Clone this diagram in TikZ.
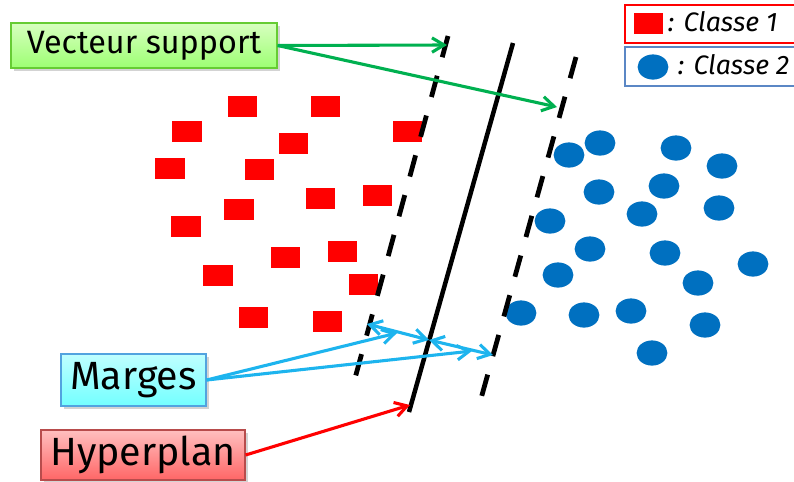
\documentclass[tikz,border=0pt]{standalone}
\usepackage{fontspec}
\setmainfont{Fira Sans}
\usetikzlibrary{arrows.meta,shadows,shapes.geometric}

\definecolor{ptred}{HTML}{FF0000}
\definecolor{ptblue}{HTML}{0070C0}
\definecolor{arrgreen}{HTML}{00B050}
\definecolor{arrcyan}{HTML}{1DB4EE}
\definecolor{legblue}{HTML}{5B87C5}

\begin{document}
\begin{tikzpicture}[x=0.025cm,y=-0.025cm,>={Straight Barb[length=3mm,width=3.6mm]},
  redpt/.style={fill=ptred,minimum width=0.725cm,minimum height=0.525cm,inner sep=0pt},
  bluept/.style={ellipse,fill=ptblue,minimum width=0.77cm,minimum height=0.63cm,inner sep=0pt},
  labelbox/.style={draw,line width=0.8pt,drop shadow={shadow xshift=2pt,shadow yshift=-2pt,opacity=0.35},inner sep=2pt},
  legbox/.style={draw,line width=1.6pt,minimum width=4.4cm,anchor=west},
  sep/.style={line width=3.2pt,line cap=butt},
  margin/.style={sep,line width=3.4pt,dash pattern=on 0.55cm off 0.48cm},
  arr/.style={line width=2.2pt}]
\useasboundingbox (0,0) rectangle (794,481);

% les deux classes
\foreach \x/\y [count=\i] in {242/106,325/106,187/131,407/131,293/143,170/168,259/169,320/198,
  377/195,239/209,186/226,285/257,342/251,218/275,363/284,253/317,327/321}
  \node[redpt] (r\i) at (\x,\y) {};
\foreach \x/\y [count=\i] in {569/155,600/143,676/148,722/166,599/192,664/186,719/208,642/214,
  550/221,590/249,665/253,753/264,558/275,698/283,521/313,584/315,631/311,705/325,652/353}
  \node[bluept] (b\i) at (\x,\y) {};

% hyperplan et marges
\coordinate (lt) at (448,36);  \coordinate (lb) at (351,393);
\coordinate (ht) at (513,43);  \coordinate (hb) at (409,412);
\coordinate (rt) at (576,57);  \coordinate (rb) at (477,413);
\draw[margin] (lt) -- (lb);
\draw[margin] (rt) -- (rb);
\draw[sep] (ht) -- (hb);

% legende
\node[legbox,draw=ptred,minimum height=0.95cm] (leg1) at (624,24) {};
\node[legbox,draw=legblue,minimum height=0.98cm] (leg2) at (624,66.5) {};
\node[redpt] (legr) at (648,23) {};
\node[anchor=west,font=\fontsize{19}{22}\itshape] (legt1) at (663,22) {: Classe 1};
\node[bluept] (legb) at (653,67) {};
\node[anchor=west,font=\fontsize{19}{22}\itshape] (legt2) at (673,65) {: Classe 2};

% etiquettes
\node[labelbox,draw=green!50!olive!80,top color=green!50!lime!25,bottom color=green!60!lime!55,
  minimum width=6.65cm,minimum height=1.125cm,font=\fontsize{23}{26}\selectfont] (vs) at (144,45.5) {Vecteur support};
\node[labelbox,draw=cyan!70!blue!70,top color=cyan!25,bottom color=cyan!55,
  minimum width=3.625cm,minimum height=1.3cm,font=\fontsize{28}{32}\selectfont] (mg) at (133.5,380) {Marges};
\node[labelbox,draw=red!60!black!70,top color=red!25,bottom color=red!60,
  minimum width=5.1cm,minimum height=1.25cm,font=\fontsize{28}{32}\selectfont] (hp) at (143,455) {Hyperplan};

% fleches
\coordinate (sv1) at (447,45);
\coordinate (sv2) at (557,107);
\draw[->,arr,arrgreen] (vs.east) -- (sv1);
\draw[->,arr,arrgreen] (vs.east) -- (sv2);

\coordinate (ml) at (367,324);
\coordinate (mh) at (429,340);
\coordinate (mr) at (493,355);
\coordinate (mg1) at (397,333);
\coordinate (mg2) at (472,351);
\draw[<->,arr,arrcyan] (ml) -- (mh);
\draw[<->,arr,arrcyan] (mh) -- (mr);
\draw[->,arr,arrcyan] (mg.east) -- (mg1);
\draw[->,arr,arrcyan] (mg.east) -- (mg2);

\coordinate (hpt) at (410,405);
\draw[->,arr,ptred] (hp.east) -- (hpt);
\end{tikzpicture}
\end{document}
